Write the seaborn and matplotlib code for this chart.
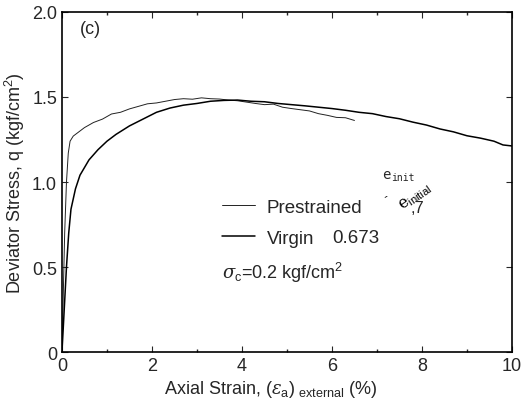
import matplotlib
matplotlib.use('Agg')
import matplotlib.pyplot as plt
import seaborn as sns
import pandas as pd

sns.set_theme(style="ticks")
plt.rcParams['font.family'] = ['Liberation Sans', 'DejaVu Sans']
plt.rcParams['mathtext.fontset'] = 'custom'
plt.rcParams['mathtext.rm'] = 'Liberation Sans'
plt.rcParams['mathtext.it'] = 'DejaVu Serif:italic'

# Prestrained specimen
pre_strain = [0, 0.03, 0.06, 0.1, 0.14, 0.18, 0.25, 0.35, 0.5, 0.7, 0.9, 1.1, 1.3, 1.5,
              1.7, 1.9, 2.1, 2.3, 2.5, 2.7, 2.9, 3.1, 3.3, 3.5, 3.7, 3.9, 4.1, 4.3,
              4.5, 4.7, 4.9, 5.1, 5.3, 5.5, 5.7, 5.9, 6.1, 6.3, 6.5]
pre_q = [0, 0.35, 0.7, 1.0, 1.17, 1.24, 1.27, 1.29, 1.32, 1.35, 1.37, 1.40, 1.41, 1.43,
         1.445, 1.46, 1.465, 1.475, 1.485, 1.49, 1.487, 1.495, 1.49, 1.488, 1.482, 1.478,
         1.47, 1.462, 1.455, 1.458, 1.44, 1.432, 1.425, 1.418, 1.402, 1.392, 1.38, 1.378, 1.362]

# Virgin specimen
vir_strain = [0, 0.03, 0.06, 0.1, 0.15, 0.2, 0.3, 0.4, 0.6, 0.8, 1.0, 1.2, 1.5, 1.8, 2.1,
              2.4, 2.7, 3.0, 3.3, 3.6, 3.9, 4.2, 4.5, 4.8, 5.1, 5.4, 5.7, 6.0, 6.3, 6.6,
              6.9, 7.2, 7.5, 7.8, 8.1, 8.4, 8.7, 9.0, 9.3, 9.6, 9.8, 10.0]
vir_q = [0, 0.15, 0.3, 0.5, 0.7, 0.84, 0.96, 1.04, 1.13, 1.19, 1.24, 1.28, 1.33, 1.37,
         1.41, 1.435, 1.452, 1.462, 1.475, 1.48, 1.482, 1.475, 1.472, 1.462, 1.455, 1.448,
         1.44, 1.432, 1.422, 1.41, 1.402, 1.385, 1.372, 1.352, 1.335, 1.312, 1.295, 1.272,
         1.258, 1.24, 1.218, 1.212]

df = pd.concat([
    pd.DataFrame({'strain': pre_strain, 'q': pre_q, 'Specimen': 'Prestrained'}),
    pd.DataFrame({'strain': vir_strain, 'q': vir_q, 'Specimen': 'Virgin'}),
])

fig = plt.figure(figsize=(5.27, 4.06), dpi=100)
ax = fig.add_axes([0.1176, 0.1305, 0.8539, 0.8375])

sns.lineplot(data=df, x='strain', y='q', hue='Specimen', size='Specimen',
             sizes={'Prestrained': 0.7, 'Virgin': 1.1},
             palette={'Prestrained': '#222222', 'Virgin': 'black'},
             estimator=None, sort=False, ax=ax)

ax.set_xlim(0, 10)
ax.set_ylim(0, 2.0)
ax.set_xticks([0, 2, 4, 6, 8, 10])
ax.set_xticks([1, 3, 5, 7, 9], minor=True)
ax.set_yticks([0, 0.5, 1.0, 1.5, 2.0])
ax.set_yticklabels(['0', '0.5', '1.0', '1.5', '2.0'])
ax.tick_params(direction='in', top=True, right=True, labelsize=13, length=4, width=0.8)
ax.tick_params(which='minor', direction='in', top=True, length=2)
for s in ax.spines.values():
    s.set_linewidth(1.2)
    s.set_color('black')

ax.set_xlabel(r'Axial Strain, ($\epsilon_{\mathrm{a}}$)$_{\mathrm{\ external}}$ (%)', fontsize=13)
ax.xaxis.set_label_coords(0.464, -0.075)
ax.set_ylabel(r'Deviator Stress, q (kgf/cm$^{2}$)', fontsize=13, labelpad=4)

leg = ax.legend(loc='upper left', bbox_to_anchor=(0.317, 0.50), frameon=False,
                fontsize=13.5, handlelength=1.8, handletextpad=0.6, labelspacing=0.72)

ax.text(0.4, 1.9, '(c)', fontsize=13, va='center')
ax.text(6.0, 0.675, '0.673', fontsize=13.5, va='center')
ax.text(7.11, 1.045, 'e', fontsize=10, va='center', family='DejaVu Sans Mono')
ax.text(7.32, 1.03, 'init', fontsize=7, va='center', family='DejaVu Sans Mono')
ax.text(7.4, 0.92, r'e$_{\mathrm{initial}}$', fontsize=11.5, va='center', rotation=35,
        family='DejaVu Serif', color='black')
ax.text(7.15, 0.885, '\u00b4', fontsize=11, va='center')
ax.text(7.75, 0.85, ',7', fontsize=12, va='center')
ax.text(3.56, 0.47, r'$\sigma_{\mathrm{c}}$=0.2 kgf/cm$^{2}$', fontsize=13, va='center')

fig.savefig('out.png', dpi=100)
